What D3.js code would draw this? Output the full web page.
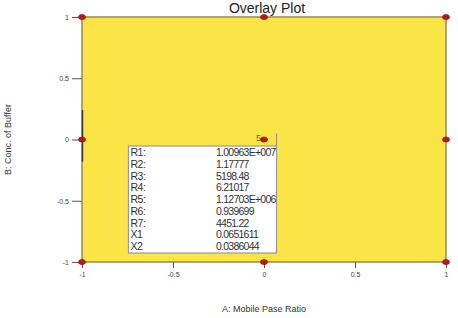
<!DOCTYPE html>
<html>
<head>
<meta charset="utf-8">
<script src="https://cdn.jsdelivr.net/npm/d3@7"></script>
<style>
  body { margin: 0; background: #fff; }
  svg { display: block; font-family: "Liberation Sans", Arial, sans-serif; }
</style>
</head>
<body>
<div id="chart"></div>
<script>
// Design-Punkte (A, B) des Versuchsplans
const designA = [-1, 0, 1, -1, 0, 1, -1, 0, 1];
const designB = [1, 1, 1, 0, 0, 0, -1, -1, -1];
const tickValues = [-1, -0.5, 0, 0.5, 1];
const tickLabels = ["-1", "-0.5", "0", "0.5", "1"];

// Inhalt der Info-Box
const boxLabels = ["R1:", "R2:", "R3:", "R4:", "R5:", "R6:", "R7:", "X1", "X2"];
const boxValues = ["1.00963E+007", "1.17777", "5198.48", "6.21017", "1.12703E+006", "0.939699", "4451.22", "0.0651611", "0.0386044"];
const centerReplicates = "5";

const width = 458, height = 318;
const margin = { left: 82, right: 12, top: 17, bottom: 56 };

const svg = d3.select("#chart")
  .append("svg")
  .attr("width", width)
  .attr("height", height);

const xScale = d3.scaleLinear()
  .domain([-1, 1])
  .range([margin.left, width - margin.right]);

const yScale = d3.scaleLinear()
  .domain([-1, 1])
  .range([height - margin.bottom, margin.top]);

// gelbe Fläche
svg.append("rect")
  .attr("x", xScale(-1))
  .attr("y", yScale(1))
  .attr("width", xScale(1) - xScale(-1))
  .attr("height", yScale(-1) - yScale(1))
  .attr("fill", "#fbe546")
  .attr("stroke", "#8f8a5c")
  .attr("stroke-width", 1.5);

// Achsen
const xAxis = svg.append("g")
  .attr("transform", `translate(0, ${yScale(-1)})`)
  .call(d3.axisBottom(xScale).tickValues(tickValues).tickFormat((d, i) => tickLabels[i]).tickSize(6).tickPadding(4));

const yAxis = svg.append("g")
  .attr("transform", `translate(${xScale(-1)}, 0)`)
  .call(d3.axisLeft(yScale).tickValues(tickValues).tickFormat((d, i) => tickLabels[i]).tickSize(10).tickPadding(3));

[xAxis, yAxis].forEach(ax => {
  ax.select(".domain").remove();
  ax.selectAll(".tick line").attr("stroke", "#555");
  ax.selectAll(".tick text")
    .attr("fill", "#444")
    .style("font-size", "7px")
    .style("font-family", "\"Liberation Sans\", Arial, sans-serif");
});

// dunkle Kontur am linken Rand
svg.append("line")
  .attr("x1", xScale(-1) + 0.5)
  .attr("x2", xScale(-1) + 0.5)
  .attr("y1", yScale(0.24))
  .attr("y2", yScale(-0.18))
  .attr("stroke", "#3a3a3a")
  .attr("stroke-width", 1.5);

// Titel und Achsenbeschriftungen
svg.append("text")
  .text("Overlay Plot")
  .attr("x", 267)
  .attr("y", 13)
  .attr("text-anchor", "middle")
  .attr("fill", "#222")
  .style("font-size", "14px");

svg.append("text")
  .text("A: Mobile Pase Ratio")
  .attr("x", xScale(0))
  .attr("y", 312)
  .attr("text-anchor", "middle")
  .attr("fill", "#333")
  .style("font-size", "9px");

svg.append("text")
  .text("B: Conc. of Buffer")
  .attr("transform", `translate(11, ${yScale(0)}) rotate(-90)`)
  .attr("text-anchor", "middle")
  .attr("fill", "#333")
  .style("font-size", "9px");

// Info-Box
const boxX = 128.5, boxY = 146, boxW = 148, boxH = 107;

svg.append("line")
  .attr("x1", boxX + boxW)
  .attr("x2", boxX + boxW)
  .attr("y1", yScale(0) - 6)
  .attr("y2", boxY)
  .attr("stroke", "#999")
  .attr("stroke-width", 1.2);

svg.append("rect")
  .attr("x", boxX)
  .attr("y", boxY)
  .attr("width", boxW)
  .attr("height", boxH)
  .attr("fill", "#fff")
  .attr("stroke", "#999")
  .attr("stroke-width", 1.2);

const rows = svg.selectAll("g.row")
  .data(boxLabels)
  .join("g")
  .attr("class", "row")
  .attr("transform", (d, i) => `translate(0, ${boxY + 10 + i * 11.75})`);

rows.append("text")
  .text(d => d)
  .attr("x", boxX + 2)
  .attr("fill", "#333")
  .style("font-size", "10.5px")
  .style("letter-spacing", "-0.5px");

rows.append("text")
  .text((d, i) => boxValues[i])
  .attr("x", 216)
  .attr("fill", "#333")
  .style("font-size", "10.5px")
  .style("letter-spacing", "-0.75px");

// Design-Punkte
svg.selectAll("ellipse.pt")
  .data(designA)
  .join("ellipse")
  .attr("class", "pt")
  .attr("cx", d => xScale(d))
  .attr("cy", (d, i) => yScale(designB[i]))
  .attr("rx", 3.5)
  .attr("ry", 2.6)
  .attr("fill", "#c0161a")
  .attr("stroke", "#7a1010")
  .attr("stroke-width", 0.6);

svg.append("text")
  .text(centerReplicates)
  .attr("x", xScale(0) - 3)
  .attr("y", yScale(0) + 1)
  .attr("text-anchor", "end")
  .attr("fill", "#6b5a10")
  .style("font-size", "9px");
</script>
</body>
</html>
